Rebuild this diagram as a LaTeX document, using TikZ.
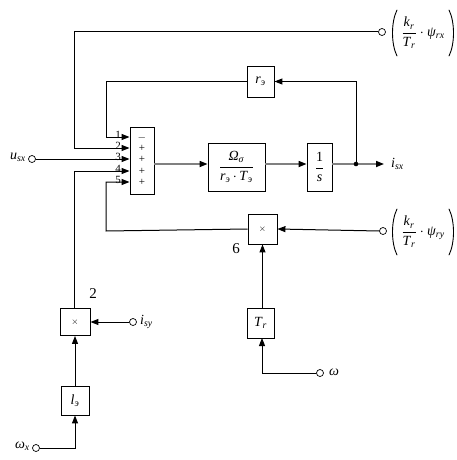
\documentclass[tikz,border=0pt]{standalone}
\usepackage{fontspec}
\setmainfont{Liberation Serif}
\usetikzlibrary{arrows.meta}
\newcommand{\ix}[2]{\textit{#1}\textsubscript{\textit{#2}}}
\begin{document}
\begin{tikzpicture}[x=1pt,y=-1pt,
  blk/.style={draw,line width=0.9pt,inner sep=0pt,font=\fontsize{14}{15}\selectfont},
  port/.style={draw,circle,inner sep=0pt,minimum size=7pt,line width=0.7pt,fill=white},
  lbl/.style={inner sep=1pt,font=\fontsize{14}{15}\selectfont},
  num/.style={inner sep=0pt,font=\fontsize{11}{11}\selectfont},
  sgn/.style={inner sep=0pt,text height=6pt,text depth=0pt,font=\fontsize{11}{11}\selectfont},
  big/.style={inner sep=0pt,font=\fontsize{15}{15}\selectfont},
  sig/.style={line width=1pt},
  paren/.style={line width=0.9pt,line cap=round},
  main/.style={line width=1.6pt,draw=black!50},
  tip/.style={-{Triangle[length=8pt,width=6pt,color=black]}}]
\useasboundingbox (0,0) rectangle (456,460);
% blocks
\node[blk,minimum width=24pt,minimum height=67pt] (sum) at (142,160.5) {};
\node[blk,minimum width=27pt,minimum height=31pt] (re) at (260.5,81.5) {\ix{r}{э}};
\node[blk,minimum width=57pt,minimum height=48pt] (om) at (236.5,167) {$\displaystyle\frac{\hbox{\textit{Ω}\textsubscript{\textit{σ}}}}{\hbox{\ix{r}{э}$\,\cdot\,$\ix{T}{э}}}$};
\node[blk,minimum width=25pt,minimum height=48pt] (integ) at (319.5,167) {$\displaystyle\frac{\hbox{1}}{\hbox{\textit{s}}}$};
\node[blk,minimum width=29pt,minimum height=30pt] (mul6) at (262.5,229) {\small$\times$};
\node[blk,minimum width=27pt,minimum height=30pt] (tr) at (260.5,323) {\ix{T}{r}};
\node[blk,minimum width=30pt,minimum height=27pt] (mul2) at (75,322) {\small$\times$};
\node[blk,minimum width=28pt,minimum height=29pt] (le) at (75,400.5) {\ix{l}{э}};
% signs inside sum
\foreach \s/\y in {$-$/137,+/148,+/159,+/171,+/182}
  \node[sgn] at (142,\y) {\s};
% input numbers
\foreach \n/\y in {1/137,2/148,3/159,4/171,5/182}
  \node[num,anchor=south] (n\n) at (118,\y+2) {\n};
% ports
\node[port] (pX) at (382,32) {};
\node[port] (pU) at (32,159) {};
\node[port] (pY) at (383,231) {};
\node[port] (pI) at (133,322) {};
\node[port] (pW) at (320,373) {};
\node[port] (pK) at (36,448) {};
% port labels
\node[lbl] (lX) at (423,33) {$\displaystyle\frac{\hbox{\ix{k}{r}}}{\hbox{\ix{T}{r}}}\cdot\hbox{\ix{ψ}{rx}}$};
\draw[paren] (397,10) .. controls (391,22) and (391,44) .. (397,56);
\draw[paren] (449,10) .. controls (455,22) and (455,44) .. (449,56);
\node[lbl] (lY) at (423,232) {$\displaystyle\frac{\hbox{\ix{k}{r}}}{\hbox{\ix{T}{r}}}\cdot\hbox{\ix{ψ}{ry}}$};
\draw[paren] (397,209) .. controls (391,221) and (391,243) .. (397,255);
\draw[paren] (449,209) .. controls (455,221) and (455,243) .. (449,255);
\node[lbl,anchor=east] (lU) at (27,157) {\ix{u}{sx}};
\node[lbl,anchor=west] (lI) at (139,322) {\ix{i}{sy}};
\node[lbl,anchor=west] (lW) at (328,372) {\textit{ω}};
\node[lbl,anchor=east] (lK) at (31,446) {\ix{ω}{x}};
\node[lbl,anchor=west] (lO) at (390,164) {\ix{i}{sx}};
\node[big] (t2) at (93,294) {2};
\node[big] (t6) at (236,249) {6};
% coordinates
\coordinate (dot) at (356,164);
\coordinate (out) at (384,164);
% main path
\draw[main,tip] (sum.east |- dot) -- (om.west |- dot);
\draw[main,tip] (om.east |- dot) -- (integ.west |- dot);
\draw[main] (integ.east |- dot) -- (dot);
\draw[main,tip] (dot) -- (out);
\fill (dot) circle (2.3pt);
% feedback r_e
\draw[sig,tip] (dot) -- (dot |- re.east) -- (re.east);
\draw[sig,tip] (re.west) -- (106,81.5) -- (106,137) -- (sum.west |- {(0,137)});
% input 2
\draw[sig,tip] (pX.west) -- (74,32) -- (74,148) -- (sum.west |- {(0,148)});
% input 3
\draw[sig,tip] (pU.east) -- (sum.west |- {(0,159)});
% input 4
\draw[sig,tip] (mul2.north -| {(74,0)}) -- (74,171) -- (sum.west |- {(0,171)});
% input 5
\draw[sig,tip] (mul6.west) -- (106,231) -- (106,182) -- (sum.west |- {(0,182)});
% psi_ry
\draw[sig,tip] (pY.west) -- (mul6.east);
% Tr -> mul6
\draw[sig,tip] (tr.north -| mul6.south) -- (mul6.south);
\draw[sig,tip] (pW.west) -- (262,373) -- (262,338);
% i_sy
\draw[sig,tip] (pI.west) -- (mul2.east);
% le -> mul2
\draw[sig,tip] (le.north) -- (mul2.south);
\draw[sig,tip] (pK.east) -- (75,448) -- (le.south);
\end{tikzpicture}
\end{document}
